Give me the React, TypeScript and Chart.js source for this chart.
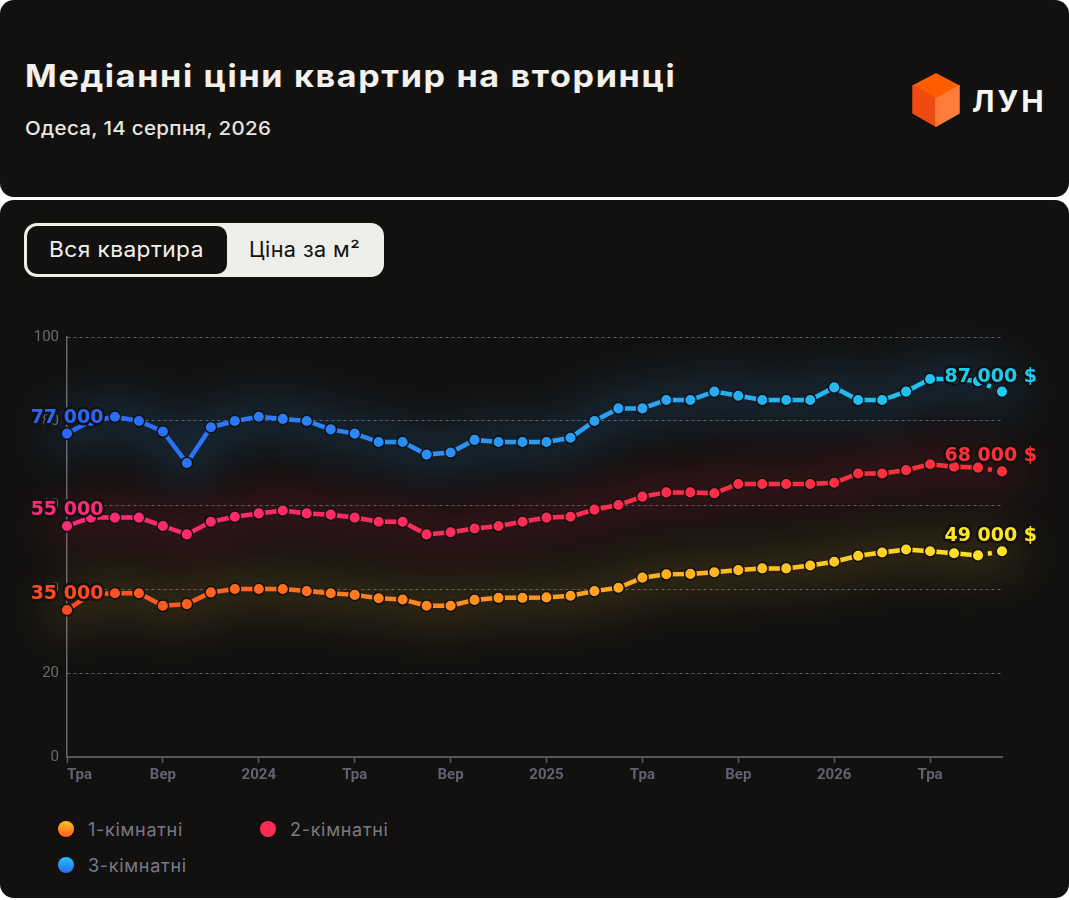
import React, { useEffect, useRef } from 'react';
import { Chart, registerables } from 'chart.js';

Chart.register(...registerables);

// ---------- data ----------
const months = [
  'Тра', 'Чер', 'Лип', 'Сер', 'Вер', 'Жов', 'Лис', 'Гру',
  '2024', 'Лют', 'Бер', 'Кві', 'Тра', 'Чер', 'Лип', 'Сер', 'Вер', 'Жов', 'Лис', 'Гру',
  '2025', 'Лют', 'Бер', 'Кві', 'Тра', 'Чер', 'Лип', 'Сер', 'Вер', 'Жов', 'Лис', 'Гру',
  '2026', 'Лют', 'Бер', 'Кві', 'Тра', 'Чер', 'Лип', 'Сер',
];
const tickEvery = 4;

// values in thousands of $
const oneRoom = [
  35, 38.8, 39, 39, 36, 36.4, 39.2, 40, 40, 40,
  39.5, 39, 38.6, 37.8, 37.5, 36, 36, 37.4, 37.9, 37.9,
  38, 38.4, 39.5, 40.3, 42.7, 43.5, 43.6, 44, 44.5, 44.9,
  44.9, 45.6, 46.5, 47.9, 48.7, 49.4, 49, 48.5, 48, 49,
];
const twoRoom = [
  55, 57, 57, 57, 55, 53, 56, 57.2, 58, 58.7,
  58, 57.7, 57, 56, 56, 53, 53.5, 54.4, 55, 56,
  57, 57.2, 58.9, 60, 62, 63, 63, 62.8, 65, 65,
  65, 65, 65.3, 67.5, 67.5, 68.3, 69.7, 69.1, 68.9, 68,
];
const threeRoom = [
  77, 80, 81, 80, 77.5, 70, 78.5, 80, 81, 80.5,
  80, 78, 77, 75, 75, 72, 72.5, 75.5, 75, 75,
  75, 76, 80, 83, 83, 85, 85, 87, 86, 85,
  85, 85, 88, 85, 85, 87, 90, 90, 89.5, 87,
];
const seriesNames = ['1-кімнатні', '2-кімнатні', '3-кімнатні'];
const seriesValues = [oneRoom, twoRoom, threeRoom];
const yMin = 0;
const yMax = 100;
const yStep = 20;

// ---------- styles ----------
const palettes = [
  ['#ff4a22', '#ff9a1f', '#ffe524'],
  ['#ff2a78', '#ff2d55', '#ff3038'],
  ['#2c66f7', '#2a9af3', '#1fcaf0'],
];
const glowColors = [
  'rgba(235,175,40,0.17)',
  'rgba(235,40,70,0.17)',
  'rgba(40,150,235,0.19)',
];
const legendDots = [
  'linear-gradient(180deg, #ffc21f 0%, #ff5a22 100%)',
  'linear-gradient(180deg, #ff2d55 0%, #ff2d55 100%)',
  'linear-gradient(180deg, #22c4f3 0%, #2c66f7 100%)',
];
const BG = '#121110';
const FONT = 'Inter, "Noto Sans", sans-serif';

function makeGradient(chart: any, stops: string[]) {
  const { ctx, chartArea } = chart;
  const g = ctx.createLinearGradient(chartArea.left, 0, chartArea.right, 0);
  stops.forEach((c, i) => g.addColorStop(i / (stops.length - 1), c));
  return g;
}

function fmtThousands(v: number) {
  const n = Math.round(v * 1000);
  return String(n).replace(/\B(?=(\d{3})+(?!\d))/g, ' ');
}

const glowPlugin = {
  id: 'glow',
  beforeDatasetsDraw(chart: any) {
    const ctx = chart.ctx;
    chart.data.datasets.forEach((_ds: any, i: number) => {
      const pts = chart.getDatasetMeta(i).data;
      if (!pts.length) return;
      ctx.save();
      ctx.filter = 'blur(22px)';
      ctx.beginPath();
      pts.forEach((p: any, j: number) => (j ? ctx.lineTo(p.x, p.y) : ctx.moveTo(p.x, p.y)));
      ctx.lineWidth = 42;
      ctx.lineJoin = 'round';
      ctx.lineCap = 'round';
      ctx.strokeStyle = glowColors[i];
      ctx.stroke();
      ctx.restore();
    });
  },
};

const endLabelsPlugin = {
  id: 'endLabels',
  afterDatasetsDraw(chart: any) {
    const ctx = chart.ctx;
    ctx.save();
    ctx.font = 'bold 19px "DejaVu Sans"';
    ctx.textBaseline = 'middle';
    ctx.textAlign = 'center';
    ctx.lineJoin = 'round';
    const draw = (text: string, x: number, y: number, color: string) => {
      const w = ctx.measureText(text).width;
      let cx = x;
      const maxRight = chart.width - 32;
      if (cx + w / 2 > maxRight) cx = maxRight - w / 2;
      ctx.lineWidth = 5;
      ctx.strokeStyle = BG;
      ctx.strokeText(text, cx, y);
      ctx.fillStyle = color;
      ctx.fillText(text, cx, y);
    };
    chart.data.datasets.forEach((ds: any, i: number) => {
      const pts = chart.getDatasetMeta(i).data;
      if (!pts.length) return;
      const pal = palettes[i];
      const first = pts[0];
      const last = pts[pts.length - 1];
      draw(fmtThousands(ds.data[0]), first.x, first.y - 16, pal[0]);
      draw(fmtThousands(ds.data[ds.data.length - 1]) + ' $', last.x, last.y - 15, pal[pal.length - 1]);
    });
    ctx.restore();
  },
};

function PriceChart() {
  const ref = useRef<HTMLCanvasElement | null>(null);
  useEffect(() => {
    if (!ref.current) return;
    const lastIdx = months.length - 1;
    const datasets = seriesValues.map((vals, i) => {
      const pal = palettes[i];
      const grad = (c: any) => (c.chart.chartArea ? makeGradient(c.chart, pal) : pal[0]);
      return {
        label: seriesNames[i],
        data: vals,
        borderColor: grad,
        backgroundColor: grad,
        pointBackgroundColor: grad,
        pointBorderColor: BG,
        pointBorderWidth: 1.5,
        pointRadius: 5.8,
        borderWidth: 4.5,
        tension: 0,
        fill: false,
        segment: {
          borderDash: (c: any) => (c.p1DataIndex === lastIdx ? [4, 6] : undefined),
        },
      };
    });
    const chart = new Chart(ref.current, {
      type: 'line',
      data: { labels: months, datasets: datasets as any },
      options: {
        animation: false,
        responsive: false,
        devicePixelRatio: 1,
        layout: { padding: { top: 37, right: 67, left: 0, bottom: 0 } },
        plugins: { legend: { display: false }, tooltip: { enabled: false } },
        scales: {
          x: {
            type: 'category',
            afterFit: (s: any) => { s.height = 43; },
            grid: {
              drawOnChartArea: false,
              drawTicks: true,
              tickLength: 6,
              tickWidth: 1.5,
              color: (c: any) => (c.index % tickEvery === 0 ? '#5a5a66' : 'rgba(0,0,0,0)'),
              tickColor: (c: any) => (c.index % tickEvery === 0 ? '#5a5a66' : 'rgba(0,0,0,0)'),
            },
            border: { display: true, color: '#55555f', width: 2 },
            ticks: {
              autoSkip: false,
              maxRotation: 0,
              align: 'inner',
              padding: 3,
              color: '#62626f',
              font: { family: 'Roboto', size: 15, weight: 'bold' },
              callback: (_v: any, idx: number) => (idx % tickEvery === 0 ? months[idx] : ''),
            },
          },
          y: {
            min: yMin,
            max: yMax,
            afterFit: (s: any) => { s.width = 67; },
            grid: { drawTicks: false, color: '#5c5c66', lineWidth: 1 },
            border: { display: true, color: '#66666e', width: 1.5, dash: [3, 3] },
            ticks: {
              stepSize: yStep,
              padding: 8,
              color: '#6a6a6e',
              font: { family: 'Roboto', size: 15 },
            },
          },
        },
      },
      plugins: [glowPlugin, endLabelsPlugin],
    });
    return () => chart.destroy();
  }, []);
  return <canvas ref={ref} width={1069} height={500} style={{ display: 'block', width: 1069, height: 500 }} />;
}

const stretch = (sx: number): React.CSSProperties => ({
  display: 'inline-block',
  transform: `scaleX(${sx})`,
  transformOrigin: 'left center',
  whiteSpace: 'nowrap',
});

export default function App() {
  useEffect(() => {
    document.body.style.margin = '0';
    document.body.style.background = '#ffffff';
  }, []);
  return (
    <div style={{ position: 'relative', width: 1069, height: 900, background: '#ffffff', fontFamily: FONT, overflow: 'hidden' }}>
      {/* header card */}
      <div style={{ position: 'absolute', left: 0, top: 0, width: 1069, height: 197, background: BG, borderRadius: 14 }}>
        <div style={{ position: 'absolute', left: 25, top: 60, fontSize: 31, lineHeight: '31px', fontWeight: 700, color: '#f2f1ec', letterSpacing: 1.5 }}>
          <span style={stretch(1.1)}>Медіанні ціни квартир на вторинці</span>
        </div>
        <div style={{ position: 'absolute', left: 25, top: 119, fontSize: 19, lineHeight: '19px', fontWeight: 500, color: '#e8e7e2', letterSpacing: 0.3 }}>
          <span style={stretch(1.08)}>Одеса, 14 серпня, 2026</span>
        </div>
        <svg style={{ position: 'absolute', left: 912, top: 73 }} width={48} height={54} viewBox="0 0 48 54">
          <polygon points="24,1 47,13 24,26 1,13" fill="#ff5c00" stroke="#ff5c00" strokeWidth={1.5} strokeLinejoin="round" />
          <polygon points="1,13 24,26 24,53 1,40" fill="#ee4a12" stroke="#ee4a12" strokeWidth={1.5} strokeLinejoin="round" />
          <polygon points="47,13 24,26 24,53 47,40" fill="#ff7c3a" stroke="#ff7c3a" strokeWidth={1.5} strokeLinejoin="round" />
        </svg>
        <div style={{ position: 'absolute', left: 972, top: 86, fontSize: 30, lineHeight: '30px', fontWeight: 700, color: '#f5f5f2', letterSpacing: 3 }}>
          ЛУН
        </div>
      </div>

      {/* chart card */}
      <div style={{ position: 'absolute', left: 0, top: 200, width: 1069, height: 698, background: BG, borderRadius: 14 }}>
        <div style={{ position: 'absolute', left: 24, top: 23, width: 360, height: 54, background: '#eeeeea', borderRadius: 13 }}>
          <div style={{ position: 'absolute', left: 3, top: 3, width: 200, height: 48, background: BG, borderRadius: 10 }} />
          <div style={{ position: 'absolute', left: 25, top: 3, height: 48, color: '#f2f1ec', fontSize: 21, lineHeight: '48px', letterSpacing: 0.4 }}>
            <span style={stretch(1.08)}>Вся квартира</span>
          </div>
          <div style={{ position: 'absolute', left: 225, top: 3, height: 48, color: BG, fontSize: 21, lineHeight: '48px', letterSpacing: 0.4 }}>
            <span style={stretch(1.03)}>Ціна за м²</span>
          </div>
        </div>

        <div style={{ position: 'absolute', left: 0, top: 100 }}>
          <PriceChart />
        </div>

        <div style={{ position: 'absolute', left: 58, top: 611, width: 420 }}>
          {seriesNames.map((name, i) => (
            <div key={name} style={{ position: 'absolute', left: (i % 2) * 202, top: Math.floor(i / 2) * 36, height: 36, display: 'flex', alignItems: 'center', whiteSpace: 'nowrap' }}>
              <span style={{ display: 'inline-block', width: 16, height: 16, borderRadius: 8, background: legendDots[i] }} />
              <span style={{ marginLeft: 14, fontSize: 18, color: '#7a7a86', letterSpacing: 0.7 }}>{name}</span>
            </div>
          ))}
        </div>
      </div>
    </div>
  );
}
